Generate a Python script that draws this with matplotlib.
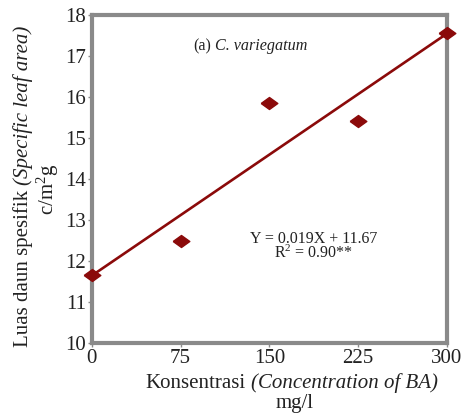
import numpy as np
import matplotlib
matplotlib.use("Agg")
import matplotlib.pyplot as plt

# data
konsentrasi = [0, 75, 150, 225, 300]
luas_daun = [11.66, 12.48, 15.85, 15.41, 17.57]
xticks = [0, 75, 150, 225, 300]
yticks = [10, 11, 12, 13, 14, 15, 16, 17, 18]

plt.rcParams['font.family'] = ['Liberation Serif', 'DejaVu Serif']
plt.rcParams['mathtext.fontset'] = 'custom'
plt.rcParams['mathtext.rm'] = 'Liberation Serif'
plt.rcParams['mathtext.it'] = 'Liberation Serif:italic'

merah = '#8b0a0a'
abu = '#8a8a8a'
teks = '#222222'

W, H = 464, 416
fig = plt.figure(figsize=(W / 100, H / 100), dpi=100)
ax = fig.add_axes([0.198, 0.1755, 0.765, 0.7885])


# tulis teks campuran (tegak + miring) berurutan, posisi dalam piksel dari kiri-atas
def tulis_campur(bagian, x0, y0, size, rot=0, rata='center'):
    r = fig.canvas.get_renderer()
    objek = []
    panjang = []
    for s, gaya in bagian:
        t = fig.text(0, 0, s, fontsize=size, style=gaya, rotation=rot,
                     rotation_mode='anchor', ha='left', va='baseline',
                     color=teks)
        bb = t.get_window_extent(r)
        panjang.append(bb.height if rot else bb.width)
        objek.append(t)
    spasi = 0.25 * size * fig.dpi / 72
    total = sum(panjang) + spasi * (len(bagian) - 1)
    pos = -total / 2 if rata == 'center' else 0
    X, Y = x0, H - y0
    for t, p in zip(objek, panjang):
        if rot:
            t.set_position((X / W, (Y + pos) / H))
        else:
            t.set_position(((X + pos) / W, Y / H))
        pos += p + spasi


# garis regresi
k = np.polyfit(konsentrasi, luas_daun, 1)
xx = np.array([konsentrasi[0], konsentrasi[-1]])
ax.plot(xx, np.polyval(k, xx), color=merah, lw=1.9, zorder=3)

# titik data (diamond agak pipih)
berlian = [(-1, 0), (0, 0.72), (1, 0), (0, -0.72), (-1, 0)]
ax.plot(konsentrasi, luas_daun, ls='none', marker=berlian, ms=12,
        color=merah, zorder=4, clip_on=False)

ax.set_xlim(0, 300)
ax.set_ylim(10, 18)
ax.set_xticks(xticks)
ax.set_yticks(yticks)
ax.set_xticklabels([str(v) for v in xticks])

for s in ax.spines.values():
    s.set_color(abu)
    s.set_linewidth(3)

ax.tick_params(axis='both', colors=abu, labelcolor=teks,
               labelsize=15, direction='out', length=3, width=1)
ax.tick_params(axis='y', pad=1)
ax.tick_params(axis='x', pad=1)

tulis_campur([('(a)', 'normal'), ('C. variegatum', 'italic')], 193, 50, 11.6,
             rata='left')
ax.text(0.625, 0.318, 'Y = 0.019X + 11.67', transform=ax.transAxes,
        fontsize=11.5, color=teks, ha='center', va='center')
ax.text(0.625, 0.272, 'R$^{2}$ = 0.90**', transform=ax.transAxes,
        fontsize=11.5, color=teks, ha='center', va='center')

# label sumbu
tulis_campur([('Luas daun spesifik', 'normal'),
              ('(Specific leaf area)', 'italic')], 28, 186, 15, rot=90)
fig.text(0.103, 0.545, 'c/m$^{2}$g', rotation=90, ha='center', va='center',
         fontsize=15, color=teks)
tulis_campur([('Konsentrasi', 'normal'),
              ('(Concentration of BA)', 'italic')], 292, 388, 15)
tulis_campur([('mg/l', 'normal')], 295, 408, 15)

fig.savefig('out.png', dpi=100)
